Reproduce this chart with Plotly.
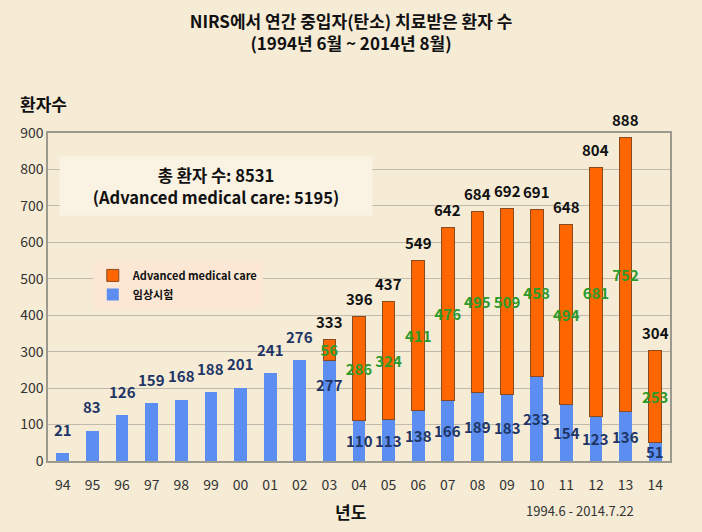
import plotly.graph_objects as go

years = ["94", "95", "96", "97", "98", "99", "00", "01", "02", "03", "04",
         "05", "06", "07", "08", "09", "10", "11", "12", "13", "14"]
clinical = [21, 83, 126, 159, 168, 188, 201, 241, 276, 277, 110,
            113, 138, 166, 189, 183, 233, 154, 123, 136, 51]
advanced = [None, None, None, None, None, None, None, None, None, 56, 286,
            324, 411, 476, 495, 509, 458, 494, 681, 752, 253]
y_ticks = [0, 100, 200, 300, 400, 500, 600, 700, 800, 900]

FONT = "Noto Sans CJK KR, Noto Sans, sans-serif"
BG = "#F6ECD6"
BLUE = "#5B8EF0"
ORANGE = "#FF6600"
GREEN = "#2E9A2A"
NAVY = "#1F3566"

fig = go.Figure()
fig.add_trace(go.Bar(
    x=years, y=clinical, name="<b>임상시험</b>",
    marker=dict(color=BLUE, line=dict(width=0)),
))
fig.add_trace(go.Bar(
    x=years, y=advanced, name="<b>Advanced medical care</b>",
    marker=dict(color=ORANGE, line=dict(color="#8A4A20", width=1)),
    text=[("<b>%d</b>" % v) if v else "" for v in advanced],
    textposition="inside", insidetextanchor="middle",
    textfont=dict(color=GREEN, size=15, family=FONT),
    textangle=0, constraintext="none",
))

annotations = []
for i, (c, a) in enumerate(zip(clinical, advanced)):
    if a is None:
        annotations.append(dict(x=i, y=c, yshift=24, text="<b>%d</b>" % c,
                                showarrow=False, font=dict(color=NAVY, size=15, family=FONT)))
    else:
        total = c + a
        if c > 250:
            annotations.append(dict(x=i, y=c, yshift=-24, text="<b>%d</b>" % c,
                                    showarrow=False, font=dict(color=NAVY, size=15, family=FONT)))
        else:
            annotations.append(dict(x=i, y=c / 2, text="<b>%d</b>" % c,
                                    showarrow=False, font=dict(color=NAVY, size=15, family=FONT)))
        annotations.append(dict(x=i, y=total, yshift=18, text="<b>%d</b>" % total,
                                showarrow=False, font=dict(color="#111111", size=15, family=FONT)))

# headings / notes
annotations += [
    dict(xref="paper", yref="paper", x=-0.008, y=1.089, text="<b>환자수</b>",
         showarrow=False, xanchor="center", yanchor="middle",
         font=dict(size=17, color="#111111", family=FONT)),
    dict(xref="paper", yref="paper", x=0.487, y=-0.155, text="<b>년도</b>",
         showarrow=False, xanchor="center", yanchor="middle",
         font=dict(size=17, color="#111111", family=FONT)),
    dict(xref="paper", yref="paper", x=0.855, y=-0.15, text="1994.6 - 2014.7.22",
         showarrow=False, xanchor="center", yanchor="middle",
         font=dict(size=13, color="#333333", family=FONT)),
    dict(xref="paper", yref="paper", x=0.27, y=0.838,
         text="<b>총 환자 수: 8531<br>(Advanced medical care: 5195)</b>",
         showarrow=False, xanchor="center", yanchor="middle",
         width=310, height=56, bgcolor="#FAF2E3",
         font=dict(size=16.5, color="#111111", family=FONT)),
]

fig.update_layout(
    width=702, height=532,
    margin=dict(l=48, r=32, t=133, b=71),
    paper_bgcolor=BG, plot_bgcolor=BG,
    barmode="stack", bargap=0.57,
    font=dict(family=FONT, color="#333333"),
    title=dict(text="<b>NIRS에서 연간 중입자(탄소) 치료받은 환자 수<br>(1994년 6월 ~ 2014년 8월)</b>",
               x=0.5, xanchor="center", y=0.948, yanchor="middle", yref="container",
               font=dict(size=17, color="#111111", family=FONT)),
    showlegend=True,
    legend=dict(x=0.072, y=0.61, xanchor="left", yanchor="top",
                bgcolor="#FBE7D3", traceorder="reversed",
                font=dict(size=11, color="#111111", family=FONT),
                itemwidth=30, tracegroupgap=0),
    annotations=annotations,
    xaxis=dict(type="category", range=[-0.5, len(years) - 0.5], showgrid=False,
               showline=True, mirror=True,
               linecolor="#9C998E", linewidth=1.5, ticks="",
               tickfont=dict(size=14, color="#333333", family=FONT),
               ticklabelstandoff=10),
    yaxis=dict(range=[0, 900], tickvals=y_ticks, showgrid=True, gridcolor="#BFBAAB",
               gridwidth=1, showline=True, mirror=True, linecolor="#9C998E", linewidth=1.5,
               zeroline=False, ticks="",
               tickfont=dict(size=14, color="#333333", family=FONT)),
)

fig.write_html("out.html",
               config={"displayModeBar": False},
               post_script="document.body.style.margin='0';"
                           "document.body.style.background='%s';" % BG)
